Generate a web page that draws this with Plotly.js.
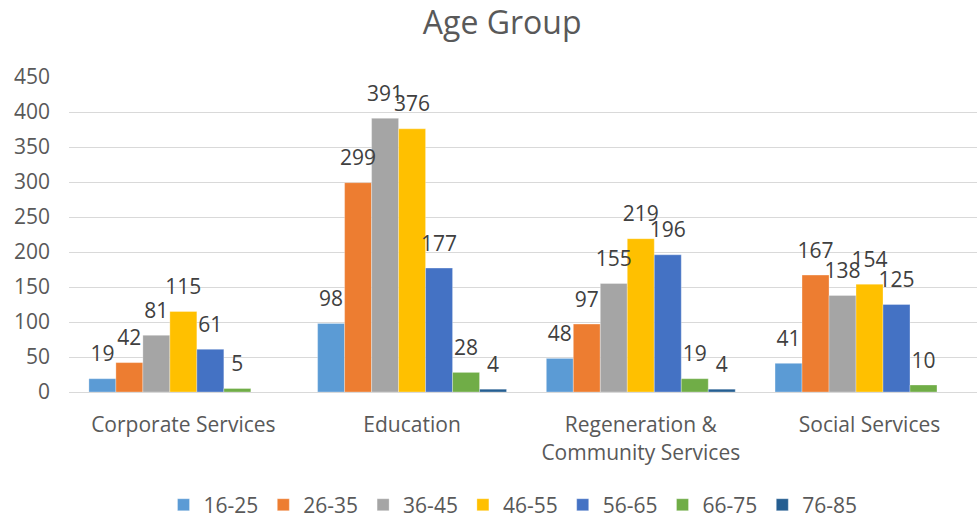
<!DOCTYPE html>
<html>
<head>
<meta charset="utf-8">
<script src="https://cdn.plot.ly/plotly-3.0.1.min.js"></script>
<style>html,body{margin:0;padding:0;background:#fff;}#chart{width:977px;height:520px;}</style>
</head>
<body>
<div id="chart"></div>
<script>
const categories = ["Corporate Services", "Education", "Regeneration &<br>Community Services", "Social Services"];
const seriesNames = ["16-25", "26-35", "36-45", "46-55", "56-65", "66-75", "76-85"];
const age16_25 = [19, 98, 48, 41];
const age26_35 = [42, 299, 97, 167];
const age36_45 = [81, 391, 155, 138];
const age46_55 = [115, 376, 219, 154];
const age56_65 = [61, 177, 196, 125];
const age66_75 = [5, 28, 19, 10];
const age76_85 = [null, 4, 4, null];
const colors = ["#5b9bd5", "#ed7d31", "#a5a5a5", "#ffc000", "#4472c4", "#70ad47", "#255e91"];
const allSeries = [age16_25, age26_35, age36_45, age46_55, age56_65, age66_75, age76_85];
const FONT = "'Open Sans', sans-serif";

const bars = allSeries.map((vals, i) => ({
  type: "bar",
  name: seriesNames[i],
  x: categories,
  y: vals,
  offsetgroup: "g" + i,
  marker: {color: colors[i], line: {color: "rgba(255,255,255,0.6)", width: 0.5}},
  hoverinfo: "x+y+name"
}));

const labels = allSeries.map((vals, i) => ({
  type: "scatter",
  mode: "text+markers",
  name: seriesNames[i],
  x: categories,
  y: vals,
  offsetgroup: "g" + i,
  showlegend: false,
  marker: {size: 18, opacity: 0, color: colors[i]},
  text: vals.map(v => v === null ? "" : String(v)),
  textposition: "top center",
  cliponaxis: false,
  textfont: {family: FONT, size: 21, color: "#404040"},
  hoverinfo: "skip"
}));

const layout = {
  width: 977,
  height: 520,
  margin: {l: 69, r: 0, t: 77, b: 128, autoexpand: false},
  paper_bgcolor: "#ffffff",
  plot_bgcolor: "#ffffff",
  font: {family: FONT, color: "#595959", size: 21},
  title: {text: "Age Group", font: {family: FONT, size: 32, color: "#595959"}, x: 0.514, xanchor: "center", y: 0.957, yanchor: "middle"},
  barmode: "group",
  bargap: 0.174,
  bargroupgap: 0,
  scattermode: "group",
  scattergap: 0.174,
  xaxis: {
    type: "category",
    range: [-0.5, 3.47],
    showgrid: false,
    showline: true,
    linecolor: "#d9d9d9",
    linewidth: 1,
    ticks: "",
    ticklabelstandoff: 14,
    tickfont: {family: FONT, size: 21, color: "#595959"},
    automargin: false
  },
  yaxis: {
    range: [0, 450],
    dtick: 50,
    showgrid: true,
    gridcolor: "#d9d9d9",
    gridwidth: 1,
    zeroline: true,
    zerolinecolor: "#d9d9d9",
    zerolinewidth: 1,
    showline: false,
    ticks: "",
    ticklabelstandoff: 18,
    tickfont: {family: FONT, size: 21, color: "#595959"},
    automargin: false
  },
  showlegend: true,
  legend: {
    orientation: "h",
    x: 0.489, xanchor: "center",
    y: -0.359, yanchor: "middle",
    font: {family: FONT, size: 21, color: "#595959"},
    traceorder: "normal"
  }
};

Plotly.newPlot("chart", bars.concat(labels), layout, {displayModeBar: false, staticPlot: true});
</script>
</body>
</html>
